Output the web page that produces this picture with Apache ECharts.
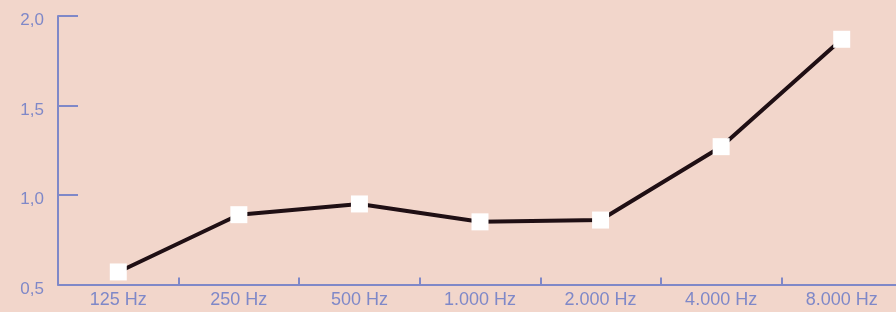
<!DOCTYPE html>
<html>
<head>
<meta charset="utf-8">
<script src="https://cdn.jsdelivr.net/npm/echarts@6/dist/echarts.min.js"></script>
<style>
html,body{margin:0;padding:0;background:#f2d6cb;overflow:hidden;width:896px;height:312px;}
#c{width:904px;height:312px;}
</style>
</head>
<body>
<div id="c"></div>
<script>
const categories = ['125 Hz','250 Hz','500 Hz','1.000 Hz','2.000 Hz','4.000 Hz','8.000 Hz'];
const values = [0.57, 0.89, 0.95, 0.85, 0.86, 1.27, 1.87];
const yTicks = [0.5, 1.0, 1.5, 2.0];

const axisColor = '#7f88c8';
const font = 'Liberation Sans, Arial, sans-serif';
const chart = echarts.init(document.getElementById('c'), null, {renderer:'canvas'});
chart.setOption({
  backgroundColor: '#f2d6cb',
  animation: false,
  grid: {left: 58, top: 16, right: 2, bottom: 27.5, containLabel: false},
  xAxis: {
    type: 'category',
    data: categories,
    boundaryGap: true,
    axisLine: {show: true, lineStyle: {color: axisColor, width: 2}},
    axisTick: {show: true, inside: true, length: 7, lineStyle: {color: axisColor, width: 2}},
    axisLabel: {color: axisColor, fontSize: 18, fontFamily: font, margin: 7}
  },
  yAxis: {
    type: 'value',
    min: 0.5, max: 2.0, interval: 0.5,
    axisLine: {show: true, lineStyle: {color: axisColor, width: 2}},
    axisTick: {show: true, inside: true, length: 20, lineStyle: {color: axisColor, width: 2}},
    splitLine: {show: false},
    axisLabel: {
      color: axisColor, fontSize: 17, fontFamily: font, margin: 14,
      verticalAlign: 'top', lineHeight: 9,
      formatter: v => yTicks.includes(v) ? v.toFixed(1).replace('.', ',') : ''
    }
  },
  series: [{
    type: 'line',
    data: values,
    symbol: 'rect',
    symbolSize: 17,
    itemStyle: {color: '#ffffff', borderWidth: 0},
    lineStyle: {color: '#1f0f14', width: 4},
    z: 3
  }]
});
</script>
</body>
</html>
